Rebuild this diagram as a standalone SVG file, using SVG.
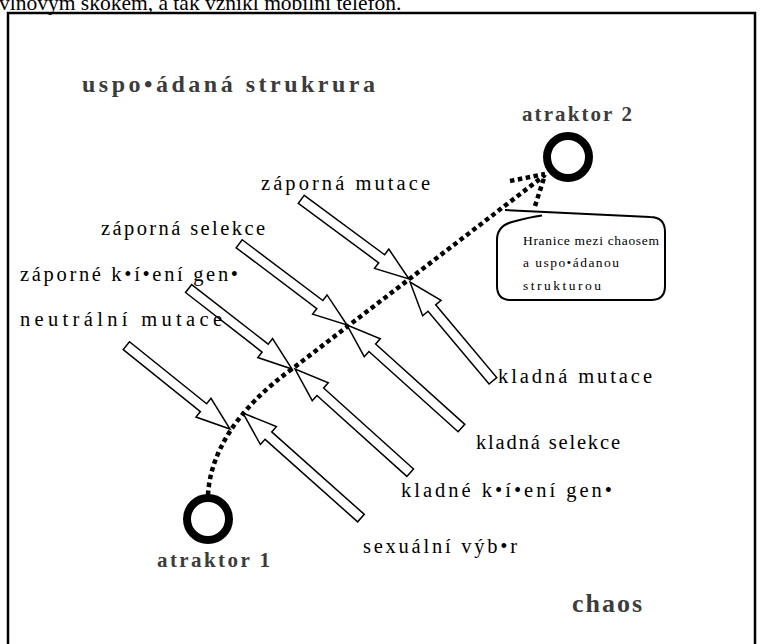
<svg xmlns="http://www.w3.org/2000/svg" width="762" height="644" viewBox="0 0 762 644">
<style>
.lbl{font-family:"Liberation Serif","Times New Roman",serif;font-size:20.5px;fill:#000}
.big{font-family:"Liberation Serif","Times New Roman",serif;font-weight:bold;fill:#3c3c3c}
.box{font-family:"Liberation Serif","Times New Roman",serif;font-size:13.5px;fill:#000}
.arr{fill:#fff;stroke:#000;stroke-width:1.5;stroke-linejoin:miter}
.ring{fill:none;stroke:#000;stroke-width:8}
.dot{fill:none;stroke:#000;stroke-width:4.5;stroke-dasharray:4.5 3.5}
</style>
<rect width="762" height="644" fill="#fff"/>
<text x="-1" y="10" style="font-family:'Liberation Serif','Times New Roman',serif;font-size:21.5px">vlnovým skokem, a tak vznikl mobilní telefon.</text>
<path d="M8,650 V13 H755 V650" fill="none" stroke="#000" stroke-width="2.5"/>

<g id="title-order"><text class="big" x="82" y="92" font-size="24" textLength="293" lengthAdjust="spacing">uspo•ádaná strukrura</text></g>
<g id="chaos"><text class="big" x="572" y="612" font-size="26" textLength="70" lengthAdjust="spacing">chaos</text></g>

<g id="attractor2">
<circle class="ring" cx="568" cy="157" r="21"/>
<text class="big" x="522" y="121" font-size="21" textLength="110" lengthAdjust="spacing">atraktor 2</text>
</g>
<g id="attractor1">
<circle class="ring" cx="208" cy="519" r="21"/>
<text class="big" x="157" y="567" font-size="21" textLength="113" lengthAdjust="spacing">atraktor 1</text>
</g>

<g id="connectors">
<path class="dot" d="M208,495 C210,455 235,410 292,369 L545,175"/>
<path class="dot" d="M510,181 L545,174"/>
<path class="dot" d="M535,206 L545,175"/>
</g>

<g id="arrow-zaporna-mutace"><polygon class="arr" transform="translate(409,279) rotate(36.5)" points="-134,-5 -34,-5 -34,-12 0,0 -34,12 -34,5 -134,5"/><text class="lbl" x="261" y="190" textLength="169" lengthAdjust="spacing">záporná mutace</text></g>
<g id="arrow-zaporna-selekce"><polygon class="arr" transform="translate(347,325) rotate(37)" points="-135,-5 -34,-5 -34,-12 0,0 -34,12 -34,5 -135,5"/><text class="lbl" x="101" y="235" textLength="164" lengthAdjust="spacing">záporná selekce</text></g>
<g id="arrow-zaporne-krizeni"><polygon class="arr" transform="translate(292,369) rotate(37.9)" points="-131,-5 -34,-5 -34,-12 0,0 -34,12 -34,5 -131,5"/><text class="lbl" x="20" y="281" textLength="218" lengthAdjust="spacing">záporné k•í•ení gen•</text></g>
<g id="arrow-neutralni-mutace"><polygon class="arr" transform="translate(230,429) rotate(38.8)" points="-133,-5 -34,-5 -34,-12 0,0 -34,12 -34,5 -133,5"/><text class="lbl" x="20" y="326" textLength="202" lengthAdjust="spacing">neutrální mutace</text></g>

<g id="arrow-kladna-mutace"><polygon class="arr" transform="translate(410,282) rotate(230)" points="-129,-5 -34,-5 -34,-12 0,0 -34,12 -34,5 -129,5"/><text class="lbl" x="498" y="383" textLength="154" lengthAdjust="spacing">kladná mutace</text></g>
<g id="arrow-kladna-selekce"><polygon class="arr" transform="translate(347,325) rotate(222)" points="-154,-5 -34,-5 -34,-12 0,0 -34,12 -34,5 -154,5"/><text class="lbl" x="476" y="449" textLength="144" lengthAdjust="spacing">kladná selekce</text></g>
<g id="arrow-kladne-krizeni"><polygon class="arr" transform="translate(295,369) rotate(222)" points="-155,-5 -34,-5 -34,-12 0,0 -34,12 -34,5 -155,5"/><text class="lbl" x="401" y="497" textLength="211" lengthAdjust="spacing">kladné k•í•ení gen•</text></g>
<g id="arrow-sexualni-vyber"><polygon class="arr" transform="translate(243,413) rotate(221.7)" points="-158,-5 -34,-5 -34,-12 0,0 -34,12 -34,5 -158,5"/><text class="lbl" x="363" y="553" textLength="154" lengthAdjust="spacing">sexuální výb•r</text></g>

<g id="callout">
<path d="M505,210 L650,217 Q665,217 665,232 V286 Q665,300 651,300 H511 Q497,300 497,286 V240 Q497,226 512,222 Q530,217 542,215.5" fill="#fff" stroke="#000" stroke-width="2"/>
<text class="box" x="523" y="245" textLength="136" lengthAdjust="spacing">Hranice mezi chaosem</text>
<text class="box" x="523" y="267" textLength="96" lengthAdjust="spacing">a uspo•ádanou</text>
<text class="box" x="523" y="290" textLength="78" lengthAdjust="spacing">strukturou</text>
</g>
</svg>
